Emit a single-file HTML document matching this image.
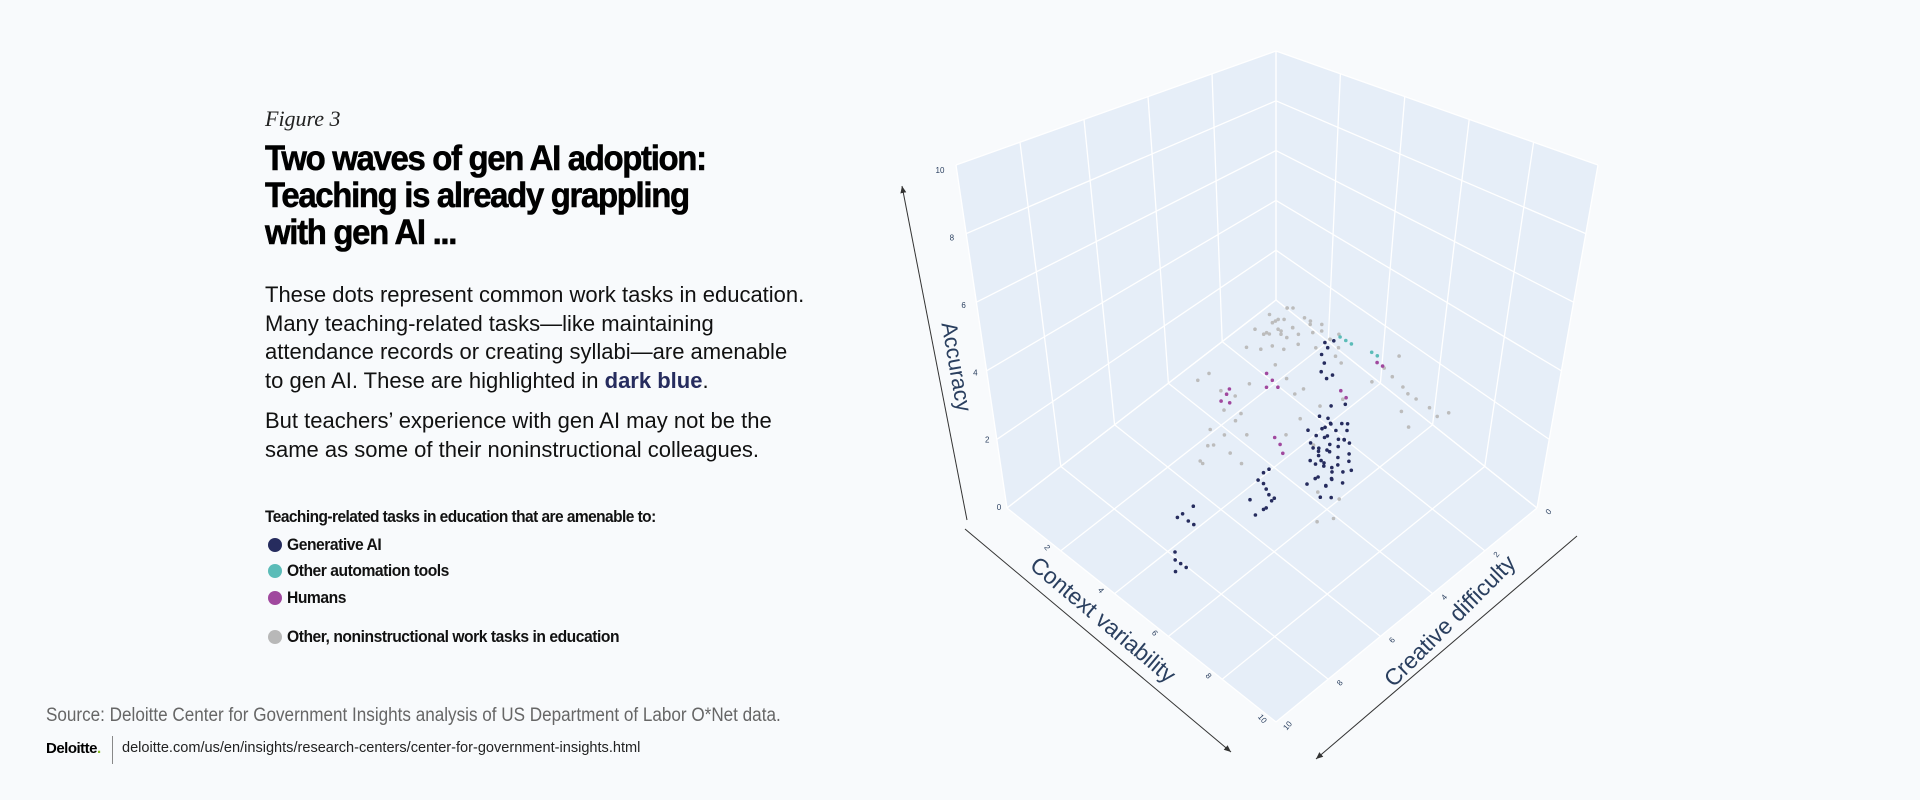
<!DOCTYPE html>
<html><head><meta charset="utf-8">
<style>
body{margin:0;width:1920px;height:800px;background:#f8fafc;overflow:hidden;font-family:"Liberation Sans",sans-serif;color:#111;position:relative}
.a{position:absolute;white-space:nowrap}
#fig{left:265px;top:106px;font-family:"Liberation Serif",serif;font-style:italic;font-size:22px;color:#222}
#title{left:265px;top:140px;font-size:35px;font-weight:bold;line-height:37px;letter-spacing:-1.4px;color:#000;transform:scaleX(0.94);transform-origin:left top;-webkit-text-stroke:0.6px #000}
.body{left:265px;font-size:22px;line-height:28.5px;color:#111}
#p1{top:281px}#p2{top:407px}
#lt{left:265px;top:507px;font-size:17px;font-weight:bold;letter-spacing:-0.6px;transform:scaleX(0.91);transform-origin:left top}
.li{left:268px;font-size:17px;font-weight:bold;letter-spacing:-0.5px;display:flex;align-items:center}
.li span.d{display:inline-block;width:14px;height:14px;border-radius:50%;margin-right:5px}
.li span.t{display:inline-block;transform:scaleX(0.92);transform-origin:left center}
#src{left:46px;top:705px;font-size:19px;color:#666;transform:scaleX(0.9);transform-origin:left top}
#dl{left:46px;top:740px;font-size:15px;font-weight:bold;color:#000;letter-spacing:-0.5px}
#dv{left:112px;top:736px;width:1px;height:28px;background:#888}
#url{left:122px;top:739px;font-size:15px;color:#222;transform:scaleX(0.97);transform-origin:left top}
svg{position:absolute;left:0;top:0}
</style></head><body>
<div class="a" id="fig">Figure 3</div>
<div class="a" id="title">Two waves of gen AI adoption:<br>Teaching is already grappling<br>with gen AI ...</div>
<div class="a body" id="p1">These dots represent common work tasks in education.<br>Many teaching-related tasks—like maintaining<br>attendance records or creating syllabi—are amenable<br>to gen AI. These are highlighted in <b style="color:#262c5e">dark blue</b>.</div>
<div class="a body" id="p2">But teachers’ experience with gen AI may not be the<br>same as some of their noninstructional colleagues.</div>
<div class="a" id="lt">Teaching-related tasks in education that are amenable to:</div>
<div class="a li" style="top:535px"><span class="d" style="background:#262c5e"></span><span class="t">Generative AI</span></div>
<div class="a li" style="top:561px"><span class="d" style="background:#5bbcb8"></span><span class="t">Other automation tools</span></div>
<div class="a li" style="top:588px"><span class="d" style="background:#a0489e"></span><span class="t">Humans</span></div>
<div class="a li" style="top:627px"><span class="d" style="background:#b8b8b8"></span><span class="t">Other, noninstructional work tasks in education</span></div>
<div class="a" id="src">Source: Deloitte Center for Government Insights analysis of US Department of Labor O*Net data.</div>
<div class="a" id="dl">Deloitte<span style="color:#86bc25">.</span></div>
<div class="a" id="dv"></div>
<div class="a" id="url">deloitte.com/us/en/insights/research-centers/center-for-government-insights.html</div>
<svg id="chart" width="1920" height="800"></svg>
<script>
const ticks=[0,2,4,6,8,10];
const grayPts=[[4.2,4.0,4.2],[4.0,4.1,4.5],[4.4,3.8,4.4],[4.1,3.7,4.8],[4.5,4.2,4.0],[3.9,4.3,4.2],[4.6,3.6,4.7],[4.3,3.9,5.0],[4.8,3.5,4.3],[5.0,3.4,4.6],[5.2,3.3,4.2],[4.0,4.5,3.9],[3.8,4.0,4.6],[4.7,3.9,4.1],[5.4,3.2,4.4],[5.6,3.5,4.0],[3.7,4.4,4.3],[4.2,4.2,4.7],[4.9,3.7,4.8],[3.6,4.6,3.8],
[4.1,4.0,4.3],[4.3,4.1,4.4],[4.2,3.9,4.6],[4.4,4.0,4.2],[4.0,3.9,4.5],[4.5,3.9,4.5],[4.3,3.7,4.9],[4.6,3.8,4.3],[5.1,3.5,4.5],[5.3,3.4,4.3],[3.9,4.1,4.1],[4.2,4.3,4.0],[4.8,3.6,4.6],[5.5,3.3,4.1],[4.1,4.4,4.4],
[4.7,6.1,3.0],[4.5,6.3,3.3],[4.9,5.9,2.6],[4.3,6.6,2.8],[4.6,6.0,3.6],[4.2,6.4,2.2],[5.0,6.2,2.0],[4.4,6.8,2.5],[4.8,5.7,3.9],[4.1,6.0,3.5],[3.9,6.2,4.0],[4.0,6.7,1.8],[4.9,6.5,2.4],[3.7,6.4,3.8],[4.3,6.9,2.0],[4.6,6.4,2.7],[4.8,6.0,3.2],
[7.2,2.7,3.5],[7.0,2.9,3.8],[7.5,2.5,3.2],[7.8,2.3,3.0],[6.8,3.0,4.0],[7.4,2.9,3.0],[8.0,2.2,2.8],[6.9,2.6,4.2],[7.6,2.8,2.6],[6.6,3.2,3.6],[8.2,2.0,2.9],[7.3,2.6,3.3],
[5.5,4.5,3.5],[5.8,4.2,3.0],[5.2,4.8,3.8],[6.0,4.6,2.2],[6.4,4.8,1.2],[6.8,4.4,1.0],[5.6,5.2,2.6],[6.2,3.8,3.2],[5.0,5.0,4.2],[6.6,5.0,0.6],[7.0,4.8,0.8],[5.4,4.0,4.4],[5.9,3.6,4.0],[5.3,4.6,3.3],[5.7,4.8,2.9]];
const genAIPts=[[6.1,4.1,2.0],[6.3,4.0,2.2],[5.9,4.3,1.8],[6.2,4.4,1.6],[6.5,4.2,1.9],[6.0,4.0,2.5],[6.4,3.8,2.4],[5.8,4.5,2.1],[6.6,4.5,1.5],[6.1,4.6,1.3],[6.7,4.0,2.0],[5.7,4.1,2.6],[6.3,4.3,2.8],[6.8,4.3,1.4],[6.0,4.8,1.2],[6.2,3.7,3.0],[6.9,4.1,1.7],[5.6,4.4,2.3],[6.4,4.7,1.0],[6.5,3.9,2.7],[6.7,4.6,1.1],[5.9,3.9,2.9],[6.1,4.2,2.3],[6.3,4.5,1.8],[6.0,4.4,2.0],[6.6,4.1,2.4],
[6.2,4.2,1.9],[6.4,4.1,2.1],[6.0,4.2,2.2],[6.3,4.2,1.5],[6.1,4.4,1.7],[6.5,4.4,1.6],[6.2,4.0,2.4],[5.9,4.2,2.4],[6.4,4.3,1.3],[6.6,4.3,1.8],[6.0,4.5,1.6],[6.2,4.6,1.4],[6.3,3.9,2.6],[6.5,4.0,2.3],[5.8,4.3,2.2],[6.1,4.3,2.6],[6.7,4.2,1.6],[6.4,4.5,1.2],[6.2,4.3,2.0],[5.9,4.6,1.7],[6.6,3.9,2.2],[6.0,4.1,2.7],[6.3,4.4,1.1],[6.8,4.1,1.9],[6.1,4.5,1.9],[5.8,4.4,1.9],
[5.8,4.0,4.6],[5.7,4.1,4.4],[5.9,3.9,4.8],[5.8,4.2,4.0],[5.9,4.1,3.8],[6.0,4.0,3.9],[5.7,4.0,4.7],[5.8,4.1,4.2],
[5.2,5.5,1.0],[5.0,5.6,1.2],[5.4,5.4,0.8],[5.3,5.7,0.6],[5.1,5.3,1.4],[5.5,5.6,0.9],[4.9,5.8,0.7],[5.2,5.9,0.5],[5.1,5.5,1.1],[5.3,5.5,0.9],[5.0,5.4,1.3],[5.4,5.7,0.7],
[4.1,7.3,0.5],[4.0,7.4,0.7],[4.2,7.2,0.4],[3.9,7.5,0.6],[4.1,7.1,0.8],
[4.8,8.3,0.3],[4.7,8.4,0.4],[4.9,8.2,0.2],[4.6,8.3,0.5],[4.8,8.5,0.2]];
const humanPts=[[5.0,5.1,3.8],[5.1,5.0,3.6],[4.9,5.2,4.0],[5.0,5.3,3.7],[4.3,6.0,3.5],[4.2,6.1,3.3],[4.4,6.0,3.7],[4.3,5.9,3.2],[5.2,5.0,2.0],[5.1,5.1,2.2],[5.3,5.0,1.8],[6.5,4.0,3.5],[6.4,4.1,3.7],[7.2,3.5,4.5],[7.1,3.6,4.6]];
const autoPts=[[6.3,3.9,5.0],[6.2,4.0,5.1],[6.4,3.8,4.9],[6.9,3.6,4.8],[7.0,3.5,4.7]];

const NS='http://www.w3.org/2000/svg',svg=document.getElementById('chart');
const FB=[1276,300],FR=[1537,508],FL=[1007,508],FF=[1276,722];
const TB=[1276,51],TR=[1598,165],TL=[956,165],TF=[1278,279];
function bil(B,R,L,F,u,v){return [0,1].map(i=>B[i]*(1-u)*(1-v)+R[i]*u*(1-v)+L[i]*(1-u)*v+F[i]*u*v);}
function proj(cv,cd,acc){const u=cv/10,v=cd/10,w=acc/10;const f=bil(FB,FR,FL,FF,u,v),t=bil(TB,TR,TL,TF,u,v);return [f[0]+(t[0]-f[0])*w,f[1]+(t[1]-f[1])*w];}
function mk(tag,at){const e=document.createElementNS(NS,tag);for(const k in at)e.setAttribute(k,at[k]);svg.appendChild(e);return e;}
function poly(pts,fill,name){const e=mk('polygon',{points:pts.map(p=>p.join(',')).join(' '),fill:fill});}
function line(a,b,st,sw,name){const e=mk('line',{x1:a[0],y1:a[1],x2:b[0],y2:b[1],stroke:st,'stroke-width':sw});return e;}
const fill='#e6eef8';
poly([proj(0,0,0),proj(0,10,0),proj(0,10,10),proj(0,0,10)],fill,'left-wall');
poly([proj(0,0,0),proj(10,0,0),proj(10,0,10),proj(0,0,10)],fill,'right-wall');
poly([proj(0,0,0),proj(10,0,0),proj(10,10,0),proj(0,10,0)],fill,'floor');
ticks.forEach(t=>{
 line(proj(0,t,0),proj(0,t,10),'#fff',1.3,'left-wall-gridline');
 line(proj(0,0,t),proj(0,10,t),'#fff',1.3,'left-wall-gridline');
 line(proj(t,0,0),proj(t,0,10),'#fff',1.3,'right-wall-gridline');
 line(proj(0,0,t),proj(10,0,t),'#fff',1.3,'right-wall-gridline');
 line(proj(t,0,0),proj(t,10,0),'#fff',1.3,'floor-gridline');
 line(proj(0,t,0),proj(10,t,0),'#fff',1.3,'floor-gridline');
});
const defs=mk('defs',{});defs.innerHTML='<marker id="ar" markerWidth="8" markerHeight="8" refX="7" refY="4" orient="auto"><path d="M0,1 L7,4 L0,7 z" fill="#333"/></marker>';
line([967,520],[902,186],'#333',1,'accuracy-axis-line').setAttribute('marker-end','url(#ar)');
line([965,529],[1231,752],'#333',1,'context-axis-line').setAttribute('marker-end','url(#ar)');
line([1577,536],[1316,759],'#333',1,'creative-axis-line').setAttribute('marker-end','url(#ar)');
function txt(x,y,s,size,rot,name,fillc){const e=mk('text',{x:x,y:y,'font-size':size,fill:fillc||'#2a3f5f','text-anchor':'middle','font-family':'Liberation Sans, sans-serif','dominant-baseline':'middle',transform:`rotate(${rot} ${x} ${y})`});e.textContent=s;}
ticks.forEach(t=>{
 const a=proj(0,10,t);txt(a[0]-8-t*0.8,a[1]+t*0.6,t,8,0,'accuracy-tick-label');
 if(t>0){const c=proj(t,10,0);txt(c[0]-14,c[1]-3,t,8,50,'context-tick-label');}
 const d=proj(10,t,0);txt(d[0]+12,d[1]+4,t,8,-50,'creative-tick-label');
});
txt(955,367,'Accuracy',22,80,'accuracy-axis-title');
txt(1102,621,'Context variability',23,40,'context-axis-title');
txt(1451,622,'Creative difficulty',23,-45,'creative-axis-title');
function scatter(arr,col,name){arr.forEach(p=>{const q=proj(p[0],p[1],p[2]);const c=mk('circle',{cx:q[0].toFixed(1),cy:q[1].toFixed(1),r:1.8,fill:col});});}
scatter(grayPts,'#bcbcbc','point-other-task');
scatter(humanPts,'#a0489e','point-humans');
scatter(autoPts,'#5bbcb8','point-automation');
scatter(genAIPts,'#262c5e','point-generative-ai');
</script>
</body></html>
